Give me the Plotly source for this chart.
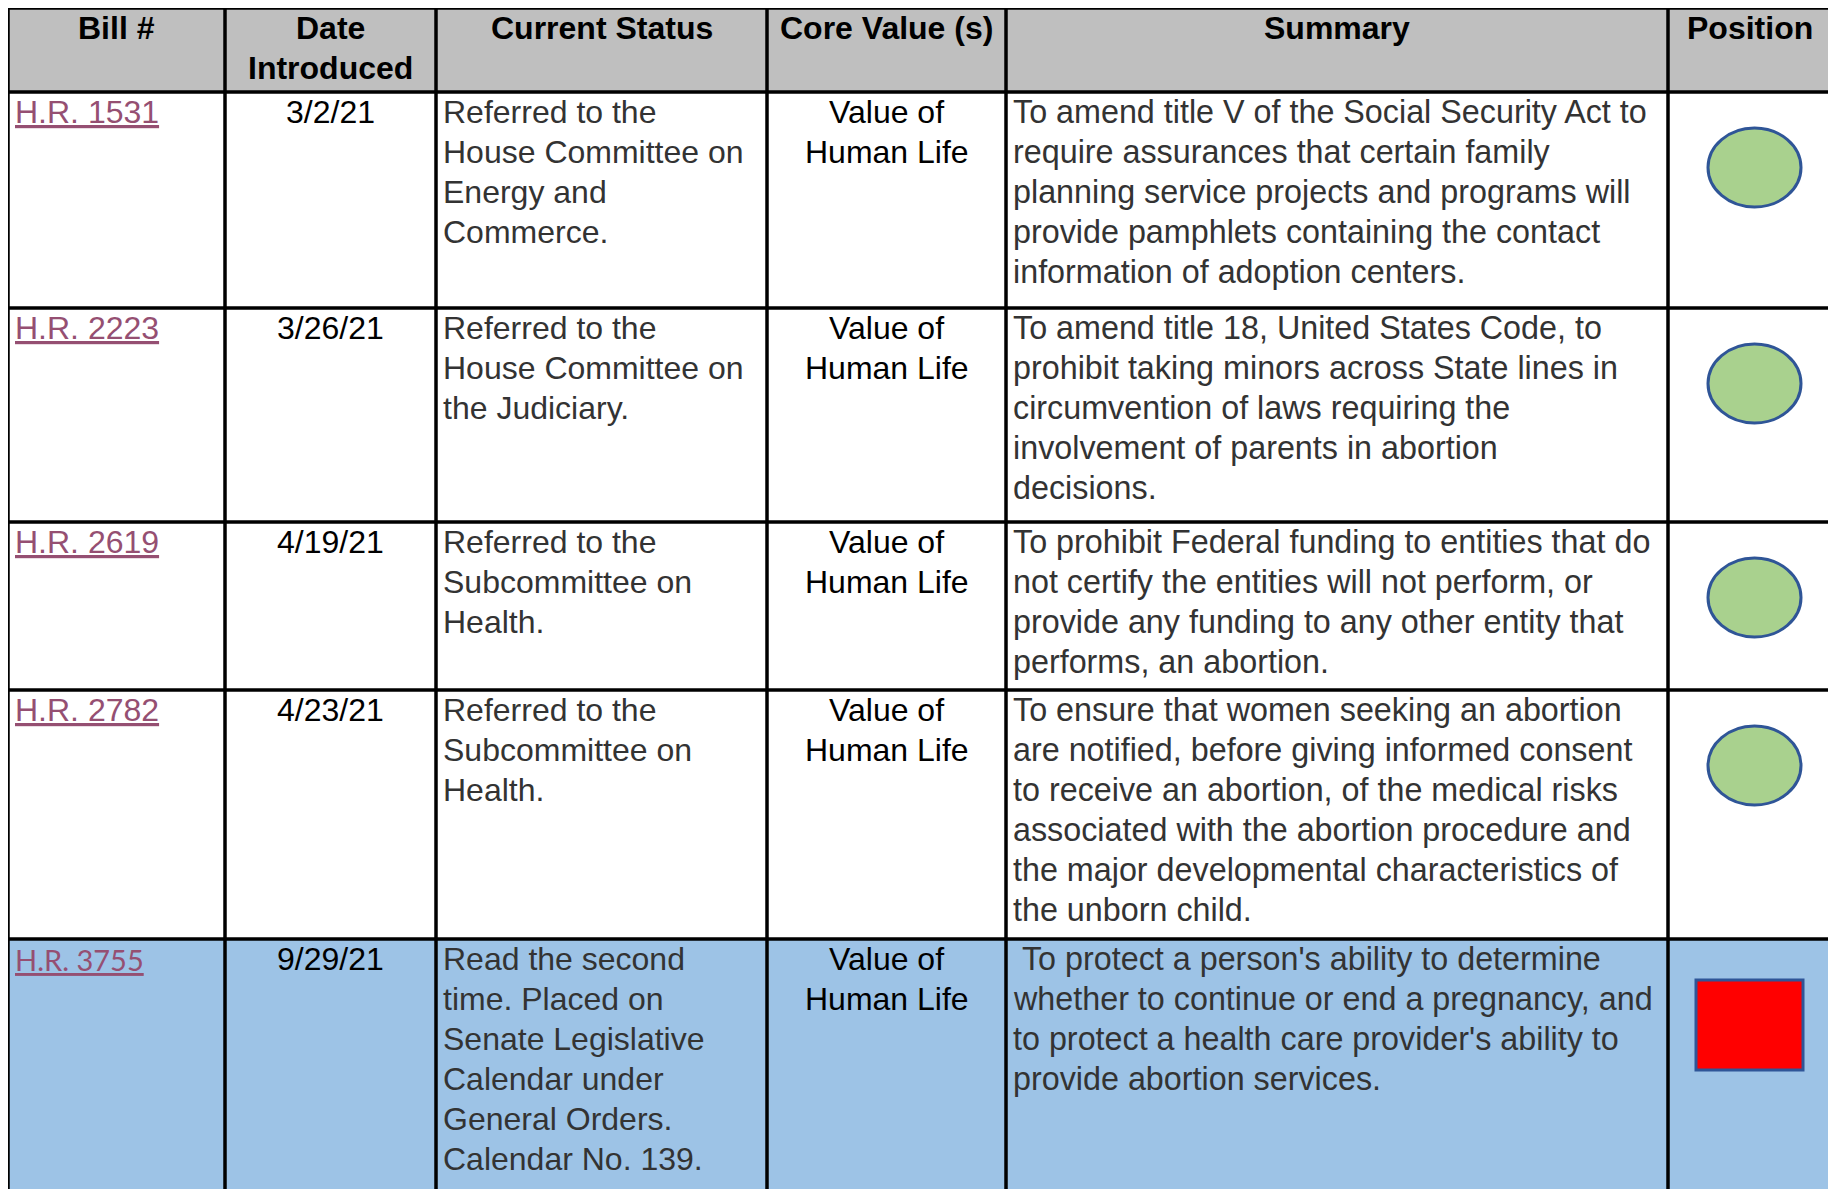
import plotly.graph_objects as go

# ---------------- data ----------------
headers = ["Bill #", "Date\nIntroduced", "Current Status", "Core Value (s)", "Summary", "Position"]
bills = ["H.R. 1531", "H.R. 2223", "H.R. 2619", "H.R. 2782", "H.R. 3755"]
dates = ["3/2/21", "3/26/21", "4/19/21", "4/23/21", "9/29/21"]
statuses = [
    "Referred to the\nHouse Committee on\nEnergy and\nCommerce.",
    "Referred to the\nHouse Committee on\nthe Judiciary.",
    "Referred to the\nSubcommittee on\nHealth.",
    "Referred to the\nSubcommittee on\nHealth.",
    "Read the second\ntime. Placed on\nSenate Legislative\nCalendar under\nGeneral Orders.\nCalendar No. 139.",
]
core_values = ["Value of\nHuman Life"] * 5
summaries = [
    "To amend title V of the Social Security Act to\nrequire assurances that certain family\nplanning service projects and programs will\nprovide pamphlets containing the contact\ninformation of adoption centers.",
    "To amend title 18, United States Code, to\nprohibit taking minors across State lines in\ncircumvention of laws requiring the\ninvolvement of parents in abortion\ndecisions.",
    "To prohibit Federal funding to entities that do\nnot certify the entities will not perform, or\nprovide any funding to any other entity that\nperforms, an abortion.",
    "To ensure that women seeking an abortion\nare notified, before giving informed consent\nto receive an abortion, of the medical risks\nassociated with the abortion procedure and\nthe major developmental characteristics of\nthe unborn child.",
    "\u00a0To protect a person's ability to determine\nwhether to continue or end a pregnancy, and\nto protect a health care provider's ability to\nprovide abortion services.",
]
positions = ["Support", "Support", "Support", "Support", "Oppose"]

# ---------------- layout (pixels, page coordinates) ----------------
W, H = 1836, 1189
OFF = 8  # default page body margin
col_edges = [8, 225, 436, 767, 1006, 1668, 1832]
row_edges = [8, 92, 308, 522, 690, 939, 1260]
row_fill = ["#FFFFFF", "#FFFFFF", "#FFFFFF", "#FFFFFF", "#9DC3E6"]
header_fill = "#BFBFBF"
LINE_H = 40
FS = 32
PAD = 7
FIRST = 20

fig = go.Figure()
fig.add_trace(go.Scatter(x=[OFF], y=[OFF], mode="markers", marker=dict(opacity=0), hoverinfo="skip", showlegend=False))

shapes = []
# backgrounds
shapes.append(dict(type="rect", xref="x", yref="y", x0=col_edges[0], x1=col_edges[-1],
                   y0=row_edges[0], y1=row_edges[1], fillcolor=header_fill, line=dict(width=0), layer="below"))
for i, c in enumerate(row_fill):
    shapes.append(dict(type="rect", xref="x", yref="y", x0=col_edges[0], x1=col_edges[-1],
                       y0=row_edges[i + 1], y1=row_edges[i + 2], fillcolor=c, line=dict(width=0), layer="below"))
# grid
for y in row_edges[:-1]:
    shapes.append(dict(type="line", xref="x", yref="y", x0=col_edges[0] - 1.5, x1=col_edges[-1] + 1.5, y0=y, y1=y,
                       line=dict(color="#000000", width=3.5)))
for x in col_edges:
    shapes.append(dict(type="line", xref="x", yref="y", x0=x, x1=x, y0=row_edges[0], y1=row_edges[-1],
                       line=dict(color="#000000", width=3.5)))

# position marks
pc = (col_edges[5] + col_edges[6]) / 2 + 5
for i, p in enumerate(positions):
    top = row_edges[i + 1]
    if p == "Support":
        shapes.append(dict(type="circle", xref="x", yref="y", x0=pc - 47, x1=pc + 46, y0=top + 36, y1=top + 115,
                           fillcolor="#A9D18E", line=dict(color="#2F5597", width=3)))
    else:
        shapes.append(dict(type="rect", xref="x", yref="y", x0=pc - 59, x1=pc + 48, y0=top + 41, y1=top + 131,
                           fillcolor="#FF0000", line=dict(color="#2F5597", width=3)))

ann = []


def put(text, x, y, anchor, font):
    ann.append(dict(text=text, x=x, y=y, xref="x", yref="y", xanchor=anchor, yanchor="middle",
                    showarrow=False, font=font, borderpad=0, borderwidth=0))


hfont = dict(family="Liberation Sans, Arial", size=FS, color="#000000", weight="bold")
for j, h in enumerate(headers):
    cx = (col_edges[j] + col_edges[j + 1]) / 2
    for k, line in enumerate(h.split("\n")):
        put("<b>" + line + "</b>", cx, row_edges[0] + FIRST + k * LINE_H, "center", hfont)

for i in range(len(bills)):
    top = row_edges[i + 1] + FIRST
    if i < 4:
        bf = dict(family="Liberation Sans, Arial", size=FS, color="#954F72")
    else:
        bf = dict(family="Lato, Liberation Sans", size=29, color="#954F72")
    put("<u>" + bills[i] + "</u>", col_edges[0] + PAD, top, "left", bf)
    put(dates[i], (col_edges[1] + col_edges[2]) / 2, top, "center",
        dict(family="Liberation Sans, Arial", size=FS, color="#000000"))
    for k, line in enumerate(statuses[i].split("\n")):
        put(line, col_edges[2] + PAD, top + k * LINE_H, "left",
            dict(family="Liberation Sans, Arial", size=FS, color="#333333"))
    for k, line in enumerate(core_values[i].split("\n")):
        put(line, (col_edges[3] + col_edges[4]) / 2, top + k * LINE_H, "center",
            dict(family="Liberation Sans, Arial", size=FS, color="#000000"))
    for k, line in enumerate(summaries[i].split("\n")):
        put(line, col_edges[4] + PAD, top + k * LINE_H, "left",
            dict(family="Liberation Sans, Arial", size=32.3, color="#333333"))

fig.update_layout(
    width=W, height=H, margin=dict(l=0, r=0, t=0, b=0),
    paper_bgcolor="#FFFFFF", plot_bgcolor="#FFFFFF",
    xaxis=dict(range=[OFF, W + OFF], visible=False, fixedrange=True),
    yaxis=dict(range=[H + OFF, OFF], visible=False, fixedrange=True),
    shapes=shapes, annotations=ann, showlegend=False,
)
fig.write_html("out.html")
